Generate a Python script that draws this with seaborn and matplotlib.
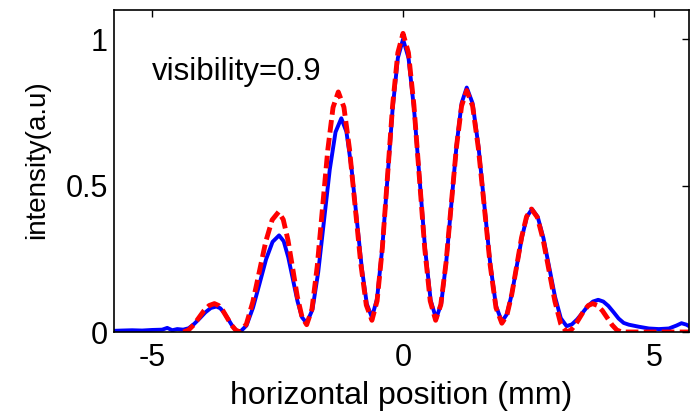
import numpy as np
import pandas as pd
import matplotlib
matplotlib.use('Agg')
import matplotlib.pyplot as plt
import seaborn as sns

x_meas = [-5.76, -5.6, -5.4, -5.2, -5.0, -4.8, -4.7, -4.6, -4.5,
          -4.38, -4.27, -4.16, -4.05, -3.94, -3.83, -3.72,
          -3.642, -3.563, -3.485, -3.407, -3.328, -3.25,
          -3.12, -2.99, -2.86, -2.73, -2.6, -2.47,
          -2.378, -2.287, -2.195, -2.103, -2.012, -1.92,
          -1.805, -1.69, -1.575, -1.46, -1.345, -1.23,
          -1.128, -1.027, -0.925, -0.823, -0.722, -0.62,
          -0.517, -0.413, -0.31, -0.207, -0.103, 0.0,
          0.11, 0.22, 0.33, 0.44, 0.55, 0.66,
          0.762, 0.863, 0.965, 1.067, 1.168, 1.27,
          1.387, 1.503, 1.62, 1.737, 1.853, 1.97,
          2.07, 2.17, 2.27, 2.37, 2.47, 2.57,
          2.685, 2.8, 2.915, 3.03, 3.145, 3.26,
          3.365, 3.47, 3.575, 3.68, 3.785, 3.89,
          3.992, 4.093, 4.195, 4.297, 4.398, 4.5,
          4.7, 4.9, 5.1, 5.3, 5.45, 5.55, 5.65, 5.70]
y_meas = [0.004, 0.005, 0.006, 0.005, 0.007, 0.008, 0.014, 0.006, 0.01,
          0.008, 0.013, 0.028, 0.047, 0.067, 0.082, 0.087,
          0.081, 0.065, 0.044, 0.022, 0.006, 0.0,
          0.022, 0.083, 0.165, 0.248, 0.308, 0.33,
          0.31, 0.255, 0.18, 0.105, 0.05, 0.03,
          0.077, 0.205, 0.38, 0.555, 0.683, 0.73,
          0.684, 0.56, 0.39, 0.22, 0.096, 0.05,
          0.114, 0.288, 0.525, 0.763, 0.936, 1.0,
          0.936, 0.761, 0.523, 0.284, 0.109, 0.045,
          0.098, 0.243, 0.44, 0.638, 0.782, 0.835,
          0.781, 0.635, 0.435, 0.235, 0.089, 0.035,
          0.061, 0.131, 0.228, 0.324, 0.394, 0.42,
          0.393, 0.32, 0.22, 0.12, 0.047, 0.02,
          0.026, 0.043, 0.065, 0.088, 0.104, 0.11,
          0.104, 0.089, 0.068, 0.046, 0.031, 0.025,
          0.018, 0.012, 0.01, 0.012, 0.022, 0.03, 0.025, 0.02]

# fitted profile (red dashed)
x_fit = [-4.38, -4.277, -4.173, -4.07, -3.967, -3.863, -3.76,
         -3.675, -3.59, -3.505, -3.42, -3.335, -3.25,
         -3.122, -2.993, -2.865, -2.737, -2.608, -2.48,
         -2.387, -2.293, -2.2, -2.107, -2.013, -1.92,
         -1.815, -1.71, -1.605, -1.5, -1.395, -1.29,
         -1.178, -1.067, -0.955, -0.843, -0.732, -0.62,
         -0.517, -0.413, -0.31, -0.207, -0.103, 0.0,
         0.108, 0.217, 0.325, 0.433, 0.542, 0.65,
         0.753, 0.857, 0.96, 1.063, 1.167, 1.27,
         1.387, 1.503, 1.62, 1.737, 1.853, 1.97,
         2.068, 2.167, 2.265, 2.363, 2.462, 2.56,
         2.677, 2.793, 2.91, 3.027, 3.143, 3.26,
         3.347, 3.433, 3.52, 3.607, 3.693, 3.78,
         3.877, 3.973, 4.07, 4.167, 4.263, 4.36,
         4.6, 5.0, 5.4, 5.70]
y_fit = [0.0, 0.0065, 0.024, 0.0485, 0.073, 0.0905, 0.097,
         0.0905, 0.073, 0.0485, 0.024, 0.0065, 0.0,
         0.027, 0.103, 0.205, 0.308, 0.383, 0.41,
         0.384, 0.314, 0.218, 0.121, 0.051, 0.025,
         0.078, 0.224, 0.423, 0.621, 0.767, 0.82,
         0.768, 0.625, 0.43, 0.235, 0.092, 0.04,
         0.106, 0.285, 0.53, 0.775, 0.954, 1.02,
         0.954, 0.775, 0.53, 0.285, 0.106, 0.04,
         0.093, 0.236, 0.433, 0.629, 0.772, 0.825,
         0.772, 0.626, 0.428, 0.229, 0.083, 0.03,
         0.056, 0.128, 0.225, 0.323, 0.394, 0.42,
         0.392, 0.315, 0.21, 0.105, 0.028, 0.0,
         0.0065, 0.024, 0.0485, 0.073, 0.0905, 0.097,
         0.0905, 0.073, 0.0485, 0.024, 0.0065, 0.0,
         0.0, 0.0, 0.0, 0.0]

x_ticks = [-5, 0, 5]
y_ticks = [0, 0.5, 1]
y_tick_labels = ['0', '0.5', '1']
note = 'visibility=0.9'

sns.set_style('white')
plt.rcParams['font.family'] = ['Liberation Sans', 'DejaVu Sans']
plt.rcParams['axes.unicode_minus'] = False
plt.rcParams['text.color'] = 'black'
plt.rcParams['axes.labelcolor'] = 'black'

fig = plt.figure(figsize=(6.94, 4.15), dpi=100)
# axes box: left 114px, right 689px, top 10px, bottom 332px
ax = fig.add_axes([0.1643, 0.2, 0.8285, 0.776])

meas = pd.DataFrame({'x': x_meas, 'y': y_meas})
fit = pd.DataFrame({'x': x_fit, 'y': y_fit})
sns.lineplot(data=meas, x='x', y='y', sort=False, color='#0000ff', lw=2.8, ax=ax)
sns.lineplot(data=fit, x='x', y='y', sort=False, color='#ff0000', lw=3.5,
             ax=ax, linestyle=(0, (2.6, 1.1)))

ax.set_xlim(-5.76, 5.70)
ax.set_ylim(0, 1.1)
ax.set_xticks(x_ticks)
ax.set_xticklabels([str(t) for t in x_ticks])
ax.set_yticks(y_ticks)
ax.set_yticklabels(y_tick_labels)
ax.tick_params(direction='in', length=5, width=1, top=True, right=True,
               labelsize=22, colors='black')
ax.tick_params(axis='x', pad=8)
ax.tick_params(axis='y', pad=4.5)
for s in ax.spines.values():
    s.set_color('black')
    s.set_linewidth(1.2)

ax.set_xlabel('horizontal position (mm)', fontsize=23)
ax.xaxis.set_label_coords(0.5, -0.152)
ax.set_ylabel('intensity(a.u)', fontsize=20)
ax.yaxis.set_label_coords(-0.111, 0.534)
ax.text(-5.0, 0.861, note, fontsize=22.5, va='baseline', ha='left')

fig.savefig('out.png', dpi=100)
